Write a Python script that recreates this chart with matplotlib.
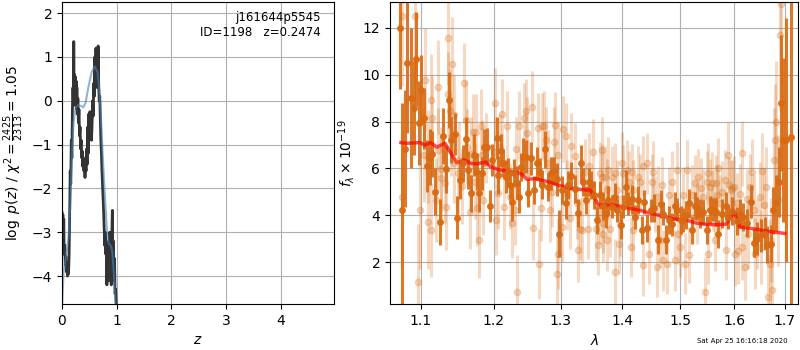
import matplotlib
matplotlib.use("Agg")
import matplotlib.pyplot as plt
from matplotlib.ticker import FixedLocator, FixedFormatter, NullLocator

# ---- p(z) panel ----
pz_z = [0.000, 0.008, 0.016, 0.024, 0.032, 0.040, 0.050, 0.060, 0.070, 0.080,
        0.090, 0.100, 0.110, 0.120, 0.130, 0.140, 0.150, 0.160, 0.170, 0.180,
        0.190, 0.200, 0.210, 0.215, 0.220, 0.228, 0.235, 0.242, 0.250, 0.258,
        0.265, 0.272, 0.280, 0.290, 0.300, 0.310, 0.320, 0.330, 0.340, 0.350,
        0.360, 0.370, 0.380, 0.390, 0.400, 0.410, 0.420, 0.430, 0.440, 0.450,
        0.460, 0.470, 0.480, 0.490, 0.500, 0.510, 0.520, 0.530, 0.540, 0.550,
        0.560, 0.570, 0.580, 0.590, 0.600, 0.610, 0.620, 0.630, 0.640, 0.650,
        0.660, 0.670, 0.680, 0.690, 0.700, 0.710, 0.720, 0.730, 0.740, 0.750,
        0.760, 0.770, 0.780, 0.790, 0.800, 0.810, 0.820, 0.830, 0.840, 0.850,
        0.860, 0.870, 0.880, 0.890, 0.900, 0.910, 0.920, 0.930, 0.940, 0.950,
        0.960, 0.970, 0.980, 0.990, 1.000]
pz_logp = [-2.55, -2.90, -2.60, -3.20, -2.70, -3.50, -3.30, -3.75, -3.55, -3.90,
           -3.70, -4.00, -3.80, -3.95, -3.50, -2.60, -1.60, -1.90, -0.90, -1.30,
           -0.20, 0.30, -0.10, 1.35, 0.20, 0.60, -0.10, 0.55, 0.00, 0.45,
           -0.20, 0.30, -0.30, 0.05, -0.50, -0.20, -0.80, -0.60, -1.10, -0.90,
           -1.30, -1.15, -1.50, -1.30, -1.60, -1.40, -1.75, -1.45, -1.60, -1.10,
           -1.45, -0.60, -1.20, -0.30, -0.90, -0.25, -0.70, -0.40, -0.90, -0.50,
           0.00, -0.35, 0.40, 0.10, 1.00, 0.30, 1.20, 0.50, 0.95, 0.30,
           1.25, 0.40, 0.00, 0.10, -0.40, -0.90, -1.20, -1.60, -1.90, -2.20,
           -2.50, -2.90, -3.30, -3.00, -3.50, -3.20, -4.20, -3.30, -3.90, -3.40,
           -4.10, -3.00, -3.80, -3.30, -4.20, -3.10, -2.50, -3.90, -3.20, -4.10,
           -3.60, -4.40, -4.30, -4.60, -4.90]

smooth_z = [0.00, 0.03, 0.08, 0.12, 0.15, 0.18, 0.21, 0.25, 0.30, 0.35, 0.39,
            0.43, 0.48, 0.54, 0.60, 0.65, 0.69, 0.72, 0.75, 0.79, 0.82, 0.85,
            0.89, 0.92, 0.95, 0.98, 1.00]
smooth_logp = [-4.70, -3.90, -3.50, -3.10, -2.40, -1.30, -0.50, -0.15, -0.10, -0.12,
               -0.15, -0.05, 0.30, 0.65, 0.78, 0.65, 0.10, -0.60, -1.40, -2.30,
               -2.95, -3.25, -3.30, -3.45, -4.00, -4.70, -5.00]

# ---- spectrum panel ----
dark_wave = [1.0725, 1.0752, 1.0796, 1.0821, 1.0865, 1.0908, 1.0938, 1.0970, 1.1004, 1.1036,
             1.1084, 1.1115, 1.1150, 1.1190, 1.1256, 1.1293, 1.1337, 1.1375, 1.1406, 1.1452,
             1.1488, 1.1529, 1.1566, 1.1603, 1.1635, 1.1681, 1.1718, 1.1756, 1.1798, 1.1834,
             1.1868, 1.1905, 1.1943, 1.1980,
             1.2042, 1.2066, 1.2105, 1.2139, 1.2173, 1.2202, 1.2236, 1.2269, 1.2299, 1.2334,
             1.2368, 1.2397, 1.2432, 1.2467, 1.2507, 1.2542, 1.2596, 1.2637, 1.2682, 1.2718,
             1.2758, 1.2809, 1.2850, 1.2902, 1.2938, 1.2974, 1.3016, 1.3078, 1.3119, 1.3161,
             1.3224, 1.3277, 1.3320, 1.3356, 1.3404, 1.3448, 1.3490, 1.3533, 1.3577, 1.3626,
             1.3675,
             1.3725, 1.3763, 1.3818, 1.3873, 1.3911, 1.3968, 1.4011, 1.4056, 1.4096, 1.4152,
             1.4209, 1.4265, 1.4323, 1.4362, 1.4420, 1.4478, 1.4536, 1.4612, 1.4653, 1.4699,
             1.4747, 1.4805, 1.4848, 1.4906, 1.4948, 1.5008, 1.5056, 1.5104, 1.5163, 1.5207,
             1.5268, 1.5309,
             1.5358, 1.5420, 1.5481, 1.5543, 1.5605, 1.5649, 1.5699, 1.5762, 1.5838, 1.5887,
             1.5964, 1.6047, 1.6111, 1.6174, 1.6240, 1.6323, 1.6388, 1.6454, 1.6533, 1.6599,
             1.6652, 1.6718, 1.6764, 1.6818, 1.6879, 1.6919, 1.6967, 1.7035, 1.7124]
dark_flux = [12.00, 4.21, 6.83, 10.50, 9.00, 8.57, 10.67, 7.93, 9.36, 8.14,
             6.10, 6.50, 6.61, 5.00, 3.71, 7.39, 5.96, 8.93, 7.21, 7.46,
             3.90, 5.50, 6.21, 7.24, 5.93, 4.93, 6.57, 5.86, 4.93, 5.79,
             6.90, 6.93, 4.39, 6.36,
             7.29, 5.71, 6.76, 6.21, 5.64, 5.86, 5.29, 4.57, 5.79, 5.39,
             4.79, 6.07, 6.50, 6.50, 4.96, 6.43, 5.07, 6.21, 5.86, 5.29,
             6.81, 5.19, 5.79, 5.90, 5.53, 3.21, 5.07, 4.53, 5.29, 5.67,
             5.10, 4.11, 6.21, 5.43, 4.64, 5.43, 5.29, 4.86, 3.81, 4.86,
             4.39,
             4.07, 4.64, 4.36, 4.79, 4.21, 3.57, 4.36, 5.21, 4.50, 4.67,
             3.93, 4.64, 3.36, 4.57, 3.47, 4.21, 4.29, 2.96, 4.47, 4.07,
             2.96, 3.79, 3.61, 4.41, 4.24, 3.81, 3.79, 4.00, 4.50, 3.36,
             4.39, 4.29,
             4.07, 4.14, 3.36, 4.21, 4.24, 4.14, 3.21, 4.07, 4.39, 3.93,
             4.19, 3.76, 4.07, 3.93, 3.67, 4.57, 2.81, 3.00, 3.14, 3.21,
             2.74, 2.79, 4.21, 4.53, 5.43, 8.79, 7.21, 7.21, 7.36]
dark_err = [2.60, 4.60, 2.50, 3.00, 3.00, 2.00, 2.00, 1.80, 1.50, 1.30,
            1.10, 1.20, 1.00, 1.00, 1.00, 1.20, 1.00, 1.20, 1.00, 0.90,
            0.90, 0.80, 0.80, 0.90, 0.80, 0.80, 0.90, 0.80, 0.80, 0.70,
            0.80, 0.80, 0.70, 0.70,
            0.90, 0.80, 0.70, 0.60, 0.70, 0.60, 0.60, 0.80, 0.60, 0.70,
            0.70, 0.60, 0.80, 0.70, 0.60, 0.70, 0.60, 0.70, 0.60, 0.60,
            0.80, 0.60, 0.70, 0.60, 0.70, 1.00, 0.60, 0.70, 0.60, 0.60,
            0.60, 0.60, 0.80, 0.60, 0.60, 0.60, 0.60, 0.60, 0.60, 0.60,
            0.60,
            0.60, 0.60, 0.50, 0.60, 0.50, 0.60, 0.50, 0.70, 0.50, 0.60,
            0.50, 0.60, 0.60, 0.50, 0.60, 0.50, 0.60, 0.60, 0.60, 0.50,
            0.60, 0.60, 0.50, 0.60, 0.50, 0.60, 0.50, 0.60, 0.60, 0.60,
            0.60, 0.50,
            0.60, 0.50, 0.60, 0.60, 0.50, 0.60, 0.60, 0.60, 0.60, 0.50,
            0.60, 0.60, 0.60, 0.60, 0.60, 0.70, 0.60, 0.70, 0.70, 0.70,
            0.80, 0.80, 1.00, 1.20, 1.50, 2.90, 3.50, 5.20, 9.00]

light_wave = [1.0752, 1.0917, 1.0752, 1.0991, 1.0961, 1.1049, 1.1093, 1.1128, 1.1137, 1.1225,
              1.1359, 1.1417, 1.1368, 1.1395, 1.1146, 1.1203, 1.1261, 1.1337, 1.1404, 1.1440,
              1.1494, 1.1517, 1.1585, 1.1607, 1.1630, 1.1667, 1.1712, 1.1745, 1.1758, 1.1791,
              1.1814, 1.1851, 1.1897, 1.2023, 1.2037, 1.1040, 1.1093, 1.1225, 1.1269, 1.1323,
              1.1449, 1.1548, 1.1685, 1.1731, 1.1837,
              1.2114, 1.2187, 1.2090, 1.2019, 1.2153, 1.2260, 1.2319, 1.2334, 1.2368, 1.2447,
              1.2467, 1.2492, 1.2567, 1.2582, 1.2647, 1.2672, 1.2707, 1.2748, 1.2783, 1.2835,
              1.2871, 1.2913, 1.2902, 1.2938, 1.2964, 1.2954, 1.3016, 1.3031, 1.3078, 1.3094,
              1.3161, 1.3224, 1.3251, 1.3277, 1.3304, 1.3341, 1.3384, 1.3427, 1.3448, 1.3517,
              1.3560, 1.3598, 1.3653, 1.3680, 1.2066, 1.2236, 1.2309, 1.2507, 1.2697, 1.2809,
              1.3145,
              1.3653, 1.3626, 1.3708, 1.3735, 1.3763, 1.3818, 1.3873, 1.3873, 1.3901, 1.3944,
              1.3956, 1.3985, 1.4011, 1.4068, 1.4112, 1.4135, 1.4152, 1.4181, 1.4265, 1.4295,
              1.4341, 1.4351, 1.4409, 1.4455, 1.4496, 1.4524, 1.4553, 1.4582, 1.4612, 1.4670,
              1.4699, 1.4759, 1.4805, 1.4848, 1.4906, 1.4948, 1.4996, 1.5044, 1.5086, 1.5128,
              1.5163, 1.5207, 1.5268, 1.5298, 1.3626, 1.3680, 1.3735, 1.3790, 1.4181, 1.4641,
              1.4966,
              1.5327, 1.5376, 1.5420, 1.5481, 1.5512, 1.5543, 1.5574, 1.5605, 1.5649, 1.5668,
              1.5699, 1.5731, 1.5773, 1.5824, 1.5887, 1.5900, 1.5938, 1.5964, 1.6002, 1.6047,
              1.6066, 1.6111, 1.6156, 1.6208, 1.6240, 1.6305, 1.6350, 1.6388, 1.6435, 1.6500,
              1.6546, 1.6586, 1.6632, 1.6665, 1.6698, 1.6744, 1.6784, 1.6812, 1.6832, 1.6864,
              1.6898, 1.6932, 1.5450, 1.5512, 1.5636, 1.5855, 1.6015, 1.6143, 1.6272, 1.6402,
              1.6533, 1.6731]
light_flux = [12.50, 12.50, 4.79, 4.21, 1.14, 9.79, 3.71, 3.36, 8.90, 9.47,
              11.57, 10.47, 9.17, 8.43, 8.14, 4.64, 5.57, 4.33, 7.36, 8.29,
              5.79, 6.36, 9.64, 8.07, 6.93, 4.14, 7.57, 7.57, 4.29, 2.93,
              7.79, 4.64, 6.86, 8.79, 3.81, 6.57, 6.50, 6.79, 5.96, 5.36,
              6.21, 5.24, 6.61, 5.43, 6.57,
              8.33, 7.81, 6.93, 6.71, 4.36, 3.67, 6.81, 0.71, 7.81, 8.14,
              8.43, 7.53, 8.64, 3.47, 7.71, 1.93, 7.81, 7.81, 7.21, 4.24,
              5.00, 7.86, 7.14, 1.50, 2.33, 6.57, 3.50, 7.67, 7.39, 4.86,
              6.96, 6.53, 4.50, 2.53, 3.39, 3.36, 5.86, 3.43, 6.10, 6.71,
              3.43, 2.74, 5.64, 3.67, 4.93, 4.79, 4.21, 5.79, 4.29, 6.24,
              3.86,
              6.79, 5.81, 5.64, 5.10, 5.93, 5.64, 5.79, 1.57, 5.07, 2.79,
              3.57, 6.24, 5.79, 5.93, 5.43, 2.64, 5.86, 5.07, 5.64, 5.43,
              6.10, 1.86, 6.21, 2.36, 5.43, 5.86, 4.47, 1.79, 4.79, 5.29,
              2.07, 1.93, 4.86, 5.43, 2.07, 5.93, 2.64, 4.86, 1.93, 5.93,
              2.29, 4.86, 5.36, 4.07, 4.07, 3.21, 2.93, 3.43, 3.36, 2.93,
              3.21,
              5.64, 5.14, 4.79, 5.43, 5.79, 5.21, 5.39, 4.64, 5.36, 4.86,
              6.00, 4.53, 5.00, 5.50, 6.57, 5.29, 5.07, 5.14, 5.21, 4.50,
              2.47, 4.90, 6.64, 1.79, 4.67, 5.21, 5.86, 4.21, 3.21, 4.79,
              5.90, 4.43, 5.21, 0.50, 1.93, 0.79, 6.36, 7.21, 8.00, 4.64,
              11.71, 13.00, 0.71, 2.36, 2.93, 2.53, 2.36, 2.64, 3.21, 2.36,
              2.64, 2.93]
light_err = [3.0, 3.0, 3.0, 2.5, 2.5, 2.2, 2.0, 2.0, 2.0, 2.0,
             2.0, 2.0, 1.8, 1.8, 1.8, 1.8, 1.8, 1.8, 1.7, 1.7,
             1.7, 1.6, 1.7, 1.7, 1.6, 1.6, 1.6, 1.6, 1.6, 1.6,
             1.6, 1.5, 1.5, 1.5, 1.5, 2.0, 2.0, 1.8, 1.8, 1.7,
             1.7, 1.6, 1.6, 1.6, 1.5,
             1.5, 1.5, 1.4, 1.5, 1.4, 1.5, 1.4, 1.6, 1.5, 1.5,
             1.4, 1.5, 1.5, 1.4, 1.5, 1.5, 1.4, 1.5, 1.4, 1.4,
             1.5, 1.4, 1.5, 1.6, 1.5, 1.4, 1.5, 1.4, 1.4, 1.5,
             1.4, 1.4, 1.5, 1.4, 1.3, 1.4, 1.4, 1.3, 1.4, 1.4,
             1.4, 1.3, 1.4, 1.3, 1.5, 1.4, 1.5, 1.4, 1.4, 1.4,
             1.3,
             1.4, 1.3, 1.3, 1.3, 1.4, 1.3, 1.3, 1.4, 1.3, 1.3,
             1.3, 1.3, 1.2, 1.3, 1.3, 1.3, 1.2, 1.3, 1.3, 1.2,
             1.3, 1.3, 1.3, 1.3, 1.2, 1.3, 1.2, 1.3, 1.3, 1.2,
             1.3, 1.3, 1.2, 1.3, 1.3, 1.2, 1.3, 1.2, 1.3, 1.3,
             1.2, 1.3, 1.2, 1.3, 1.3, 1.2, 1.3, 1.2, 1.3, 1.2,
             1.3,
             1.2, 1.3, 1.2, 1.3, 1.3, 1.2, 1.3, 1.3, 1.2, 1.3,
             1.3, 1.2, 1.3, 1.3, 1.4, 1.2, 1.3, 1.2, 1.3, 1.3,
             1.4, 1.3, 1.4, 1.4, 1.3, 1.4, 1.4, 1.5, 1.5, 1.5,
             1.6, 1.6, 1.7, 1.8, 1.9, 2.0, 2.2, 2.4, 2.6, 2.8,
             3.2, 3.5, 1.5, 1.3, 1.3, 1.3, 1.4, 1.4, 1.5, 1.5,
             1.6, 1.8]

model_wave = [1.074, 1.081, 1.099, 1.105, 1.113, 1.121, 1.132, 1.148, 1.158, 1.168,
              1.175, 1.189, 1.195, 1.208, 1.227, 1.239, 1.249, 1.261, 1.286, 1.298,
              1.321, 1.342, 1.347, 1.360, 1.384, 1.405, 1.432, 1.460, 1.488, 1.511,
              1.528, 1.546, 1.567, 1.585, 1.600, 1.611, 1.637, 1.664, 1.700]
model_flux = [7.10, 7.07, 7.10, 6.99, 7.10, 6.90, 7.07, 6.24, 6.36, 6.21,
              6.19, 6.27, 6.07, 5.93, 5.87, 5.79, 5.53, 5.56, 5.39, 5.27,
              5.13, 5.07, 5.10, 4.44, 4.44, 4.33, 4.19, 4.01, 3.84, 3.79,
              3.67, 3.61, 3.59, 3.62, 4.15, 3.50, 3.42, 3.32, 3.22]

wave_ticks = [1.1, 1.2, 1.3, 1.4, 1.5, 1.6, 1.7]
grism_color = '#d86a12'

fig = plt.figure(figsize=(8, 3.5), dpi=100)

# left: log p(z)
ax1 = fig.add_axes([0.0775, 0.131, 0.34, 0.863])
ax1.plot(pz_z, pz_logp, color='0.2', lw=2)
ax1.plot(smooth_z, smooth_logp, color='steelblue', alpha=0.6, lw=1.5)
ax1.set_xlim(0, 4.97)
ax1.set_ylim(-4.64, 2.25)
ax1.set_xticks([0, 1, 2, 3, 4])
ax1.set_yticks([-4, -3, -2, -1, 0, 1, 2])
ax1.grid(True)
ax1.set_xlabel(r'$z$')
ax1.set_ylabel(r'$\log\ p(z)$' + ' / ' + r'$\chi^2=\frac{2425}{2313}=1.05$')
ax1.text(0.95, 0.97, 'j161644p5545\nID=1198   z=0.2474', transform=ax1.transAxes,
         ha='right', va='top', fontsize=8.5, multialignment='right')

# right: spectrum
ax2 = fig.add_axes([0.4875, 0.131, 0.5105, 0.863])
ax2.errorbar(light_wave, light_flux, yerr=light_err, color=grism_color, alpha=0.25,
             marker='o', ms=4.5, linestyle='none', elinewidth=2.2, capsize=0)
ax2.errorbar(dark_wave, dark_flux, yerr=dark_err, color=grism_color, alpha=0.9,
             marker='o', ms=4, linestyle='none', elinewidth=2.2, capsize=0)
ax2.plot(model_wave, model_flux, color='r', alpha=0.7, lw=2.5)
ax2.set_xscale('log')
ax2.set_xlim(1.06, 1.728)
ax2.set_ylim(0.2, 13.1)
ax2.xaxis.set_major_locator(FixedLocator(wave_ticks))
ax2.xaxis.set_major_formatter(FixedFormatter([str(w) for w in wave_ticks]))
ax2.xaxis.set_minor_locator(NullLocator())
ax2.set_yticks([2, 4, 6, 8, 10, 12])
ax2.grid(True)
ax2.set_xlabel(r'$\lambda$')
ax2.set_ylabel(r'$f_\lambda\times 10^{-19}$')

fig.text(0.985, 0.025, 'Sat Apr 25 16:16:18 2020', ha='right', va='center', fontsize=5)

fig.savefig('out.png', dpi=100)
